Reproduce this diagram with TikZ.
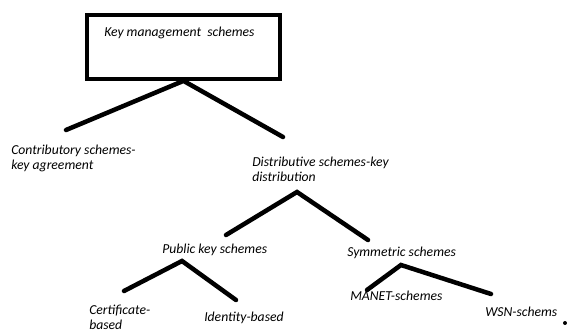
\documentclass[tikz,border=0pt]{standalone}
\usepackage{fontspec}
\setmainfont{Carlito}

\begin{document}
\begin{tikzpicture}[x=0.02646cm, y=-0.02646cm,
	lbl/.style={font=\itshape\fontsize{10.3}{12}\selectfont, inner sep=0pt, anchor=base west, align=left},
	branch/.style={line width=3.4pt, line cap=round}]
	\useasboundingbox (0,0) rectangle (568,334);

	% root box
	\node[draw, line width=3pt, minimum width=146pt, minimum height=48pt] (kms) at (183.5,47) {};
	\node[lbl] (kmstext) at (104,37) {Key management\ \ schemes};

	% labels (base = last line)
	\node[lbl] (contrib) at (11,170) {Contributory schemes-\\key agreement};
	\node[lbl] (dist) at (252,182) {Distributive schemes-key\\distribution};
	\node[lbl] (pub) at (162,254) {Public key schemes};
	\node[lbl] (sym) at (347,257) {Symmetric schemes};
	\node[lbl] (cert) at (89,330) {Certificate-\\based};
	\node[lbl] (ident) at (204,322) {Identity-based};
	\node[lbl] (manet) at (350,301) {MANET-schemes};
	\node[lbl] (wsn) at (485,317) {WSN-schems};

	% branch ends
	\coordinate (contrib-end) at (66,130);
	\coordinate (dist-end) at (283,137);
	\coordinate (dist-top) at (297,192);
	\coordinate (pub-end) at (226,235);
	\coordinate (sym-end) at (368,240);
	\coordinate (pub-top) at (182,261);
	\coordinate (cert-end) at (124,291);
	\coordinate (ident-end) at (236,300);
	\coordinate (sym-top) at (401,265);
	\coordinate (manet-end) at (367,290);
	\coordinate (wsn-end) at (491,294);

	\draw[branch] (contrib-end) -- (kms.south) -- (dist-end);
	\draw[branch] (pub-end) -- (dist-top) -- (sym-end);
	\draw[branch] (cert-end) -- (pub-top) -- (ident-end);
	\draw[branch] (manet-end) -- (sym-top) -- (wsn-end);

	\fill (565,323) circle (1.5pt);
\end{tikzpicture}
\end{document}
